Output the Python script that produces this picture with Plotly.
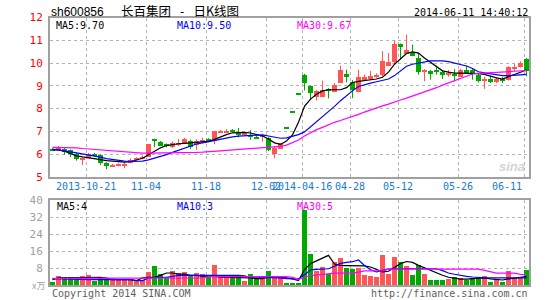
import plotly.graph_objects as go

# ---------------- data ----------------
opens = [6.23, 6.22, 6.27, 6.19, 6.04, 5.80, 5.84, 6.04, 5.97, 5.63,
         5.50, 5.53, 5.54, 5.63, 5.78, 5.82, 5.89, 6.67, 6.55, 6.42,
         6.33, 6.45, 6.48, 6.62, 6.42, 6.57, 6.67, 6.60, 6.96, 6.99,
         7.07, 6.95, 6.86, 6.86, 6.77, 6.82, 6.74, 6.02, 6.27, 7.15,
         7.87, 8.66, 9.49, 9.00, 8.55, 8.54, 8.86, 8.76, 9.15, 9.56,
         9.20, 8.76, 9.30, 9.31, 9.39, 9.49, 9.89, 10.08, 10.84, 10.44,
         10.52, 10.25, 9.64, 9.67, 9.68, 9.64, 9.53, 9.56, 9.42, 9.71,
         9.71, 9.52, 9.27, 9.33, 9.18, 9.34, 9.27, 9.78, 9.83, 10.20]
highs = [6.26, 6.36, 6.29, 6.21, 6.06, 5.85, 6.06, 6.06, 5.99, 5.65,
         5.58, 5.60, 5.62, 5.82, 5.86, 5.94, 6.45, 6.68, 6.58, 6.47,
         6.56, 6.67, 6.72, 6.64, 6.66, 6.72, 6.70, 7.02, 7.06, 7.10,
         7.10, 7.15, 6.97, 7.06, 6.80, 6.90, 6.76, 6.33, 6.50, 7.15,
         7.87, 8.66, 9.53, 9.02, 8.82, 9.23, 8.90, 9.12, 9.89, 9.71,
         9.25, 9.71, 9.50, 9.65, 9.55, 10.52, 10.44, 11.00, 10.86, 11.25,
         10.81, 10.44, 9.73, 9.70, 9.89, 9.70, 9.70, 9.74, 9.75, 9.89,
         9.78, 9.56, 9.39, 9.42, 9.39, 9.39, 9.86, 9.97, 10.08, 10.22]
lows = [6.16, 6.20, 5.98, 5.87, 5.72, 5.53, 5.82, 5.90, 5.53, 5.34,
        5.47, 5.47, 5.38, 5.60, 5.74, 5.78, 5.88, 6.31, 6.36, 6.30,
        6.27, 6.35, 6.45, 6.23, 6.19, 6.50, 6.52, 6.44, 6.94, 6.94,
        6.96, 6.74, 6.83, 6.63, 6.68, 6.55, 6.14, 5.82, 6.24, 7.15,
        7.87, 8.66, 8.80, 8.39, 8.36, 8.51, 8.45, 8.72, 9.12, 9.15,
        8.46, 8.72, 9.27, 9.27, 9.35, 9.42, 9.86, 9.97, 10.15, 10.44,
        10.30, 9.49, 9.20, 9.27, 9.49, 9.30, 9.40, 9.20, 9.40, 9.56,
        9.27, 9.15, 8.87, 9.12, 9.12, 9.12, 9.24, 9.64, 9.80, 9.42]
closes = [6.19, 6.30, 6.12, 6.04, 5.82, 5.82, 6.02, 5.95, 5.63, 5.50,
          5.57, 5.55, 5.56, 5.78, 5.84, 5.90, 6.45, 6.62, 6.38, 6.39,
          6.52, 6.50, 6.67, 6.35, 6.62, 6.66, 6.55, 7.02, 7.03, 7.06,
          7.03, 6.88, 6.95, 6.80, 6.70, 6.88, 6.19, 6.28, 6.50, 7.15,
          7.87, 8.66, 9.15, 8.71, 8.80, 8.83, 8.80, 9.05, 9.71, 9.42,
          8.83, 9.39, 9.39, 9.45, 9.52, 10.12, 10.08, 10.88, 10.77, 10.59,
          10.34, 9.64, 9.71, 9.53, 9.64, 9.49, 9.59, 9.49, 9.71, 9.59,
          9.56, 9.24, 9.33, 9.21, 9.33, 9.23, 9.86, 9.83, 10.03, 9.66]
ma5 = [6.19, 6.19, 6.13, 6.02, 5.93, 5.88, 5.85, 5.80, 5.76, 5.72,
       5.69, 5.67, 5.65, 5.67, 5.74, 5.82, 5.98, 6.12, 6.28, 6.38,
       6.43, 6.46, 6.48, 6.50, 6.52, 6.54, 6.56, 6.65, 6.77, 6.86,
       6.94, 6.96, 6.96, 6.93, 6.86, 6.80, 6.67, 6.50, 6.43, 6.58,
       6.85, 7.40, 8.10, 8.42, 8.63, 8.78, 8.83, 8.83, 8.83, 8.92,
       9.15, 9.20, 9.23, 9.28, 9.30, 9.38, 9.60, 9.95, 10.20, 10.42,
       10.49, 10.44, 10.22, 10.03, 9.82, 9.66, 9.60, 9.56, 9.56, 9.56,
       9.56, 9.54, 9.50, 9.42, 9.35, 9.30, 9.39, 9.50, 9.60, 9.70]
ma10 = [6.22, 6.19, 6.14, 6.10, 6.06, 6.02, 5.98, 5.93, 5.87, 5.81,
        5.77, 5.73, 5.70, 5.69, 5.69, 5.70, 5.75, 5.82, 5.90, 5.98,
        6.08, 6.18, 6.28, 6.37, 6.45, 6.50, 6.55, 6.63, 6.68, 6.72,
        6.76, 6.79, 6.81, 6.82, 6.84, 6.85, 6.80, 6.74, 6.70, 6.72,
        6.80, 6.86, 6.98, 7.20, 7.45, 7.68, 7.90, 8.10, 8.35, 8.58,
        8.78, 8.97, 9.06, 9.12, 9.18, 9.24, 9.30, 9.45, 9.65, 9.86,
        9.95, 10.00, 10.06, 10.10, 10.10, 10.10, 10.06, 10.00, 9.94, 9.87,
        9.76, 9.62, 9.57, 9.53, 9.49, 9.45, 9.45, 9.45, 9.48, 9.50]
ma30 = [6.30, 6.30, 6.30, 6.29, 6.28, 6.25, 6.23, 6.21, 6.19, 6.16,
        6.13, 6.10, 6.08, 6.06, 6.05, 6.05, 6.05, 6.05, 6.05, 6.05,
        6.05, 6.05, 6.05, 6.06, 6.08, 6.09, 6.10, 6.13, 6.15, 6.17,
        6.19, 6.21, 6.23, 6.24, 6.26, 6.28, 6.30, 6.31, 6.34, 6.40,
        6.50, 6.62, 6.80, 6.95, 7.08, 7.18, 7.30, 7.40, 7.48, 7.56,
        7.65, 7.75, 7.85, 7.95, 8.05, 8.12, 8.20, 8.30, 8.38, 8.46,
        8.55, 8.63, 8.72, 8.82, 8.92, 9.03, 9.13, 9.25, 9.35, 9.45,
        9.52, 9.55, 9.56, 9.57, 9.58, 9.60, 9.62, 9.64, 9.66, 9.67]
volumes = [1.6, 4.4, 3.8, 3.8, 2.7, 4.4, 4.9, 2.0, 3.9, 2.7,
           3.5, 2.5, 2.5, 2.5, 2.2, 2.5, 6.3, 9.1, 5.3, 3.9,
           6.7, 5.6, 6.3, 4.1, 5.6, 5.0, 3.8, 9.6, 4.4, 4.4,
           3.5, 4.1, 1.9, 5.3, 3.1, 2.7, 6.7, 3.8, 3.8, 0.6,
           0.6, 1.1, 35.1, 14.7, 6.6, 8.6, 5.3, 11.0, 12.9, 8.2,
           7.4, 8.2, 4.7, 4.4, 3.9, 14.3, 5.3, 13.3, 11.0, 8.9,
           4.9, 9.3, 5.3, 2.5, 2.5, 2.5, 2.8, 3.9, 3.5, 2.5,
           3.5, 3.5, 4.2, 1.6, 2.8, 1.6, 6.6, 3.5, 3.5, 7.2]
vma5 = [2.7, 3.5, 3.5, 3.5, 3.5, 3.8, 3.8, 3.8, 3.8, 3.4,
        2.7, 2.7, 2.7, 2.7, 2.2, 3.5, 3.8, 3.8, 4.7, 5.8,
        5.8, 5.3, 5.3, 4.7, 4.7, 4.2, 4.2, 4.2, 3.8, 3.8,
        3.8, 3.5, 3.5, 3.5, 3.1, 3.1, 3.8, 3.8, 3.5, 3.5,
        3.0, 2.2, 7.4, 10.2, 11.5, 13.0, 14.1, 10.0, 9.4, 9.3,
        9.3, 9.2, 9.1, 8.6, 7.3, 6.3, 6.6, 8.5, 10.2, 11.2,
        10.8, 9.4, 8.2, 7.2, 5.8, 4.7, 3.8, 3.2, 2.9, 2.9,
        3.2, 3.4, 3.5, 3.0, 2.6, 2.5, 3.0, 3.4, 3.6, 4.1]
vma10 = [3.1, 3.1, 3.0, 3.0, 2.9, 2.8, 2.7, 2.7, 2.7, 2.7,
         2.7, 2.7, 2.7, 2.7, 2.2, 2.2, 3.5, 3.8, 3.8, 3.8,
         4.3, 4.7, 4.7, 4.7, 4.7, 4.7, 5.0, 5.0, 5.0, 4.7,
         4.7, 4.7, 4.5, 3.8, 3.8, 3.8, 3.5, 3.5, 3.5, 3.1,
         3.1, 3.0, 5.0, 7.2, 7.5, 7.7, 7.8, 9.0, 10.3, 10.8,
         11.1, 11.9, 9.3, 7.3, 6.3, 7.0, 7.6, 7.8, 7.8, 7.8,
         7.8, 7.8, 7.8, 7.8, 7.8, 6.9, 5.8, 5.2, 4.6, 4.2,
         3.9, 3.6, 3.5, 3.5, 3.5, 3.5, 3.5, 3.5, 3.5, 3.5]
vma30 = [3.3, 3.3, 3.3, 3.3, 3.3, 3.3, 3.3, 3.3, 3.3, 3.3,
         3.3, 3.3, 3.3, 3.3, 3.3, 3.5, 3.5, 3.5, 3.5, 3.5,
         3.5, 3.5, 3.5, 3.5, 3.5, 3.5, 4.1, 4.1, 4.1, 4.1,
         4.1, 4.1, 4.1, 4.1, 4.1, 4.1, 4.1, 4.1, 4.1, 4.1,
         3.7, 2.8, 3.8, 4.6, 4.8, 5.2, 5.6, 5.7, 5.7, 5.7,
         5.7, 6.2, 6.8, 6.8, 6.8, 6.8, 7.6, 7.6, 7.6, 7.6,
         7.6, 7.6, 7.6, 7.6, 7.6, 7.6, 7.6, 7.6, 7.6, 7.6,
         7.6, 7.6, 7.0, 6.3, 5.7, 5.7, 5.7, 5.7, 5.1, 5.0]

tick_index = [6, 16, 26, 36, 42, 50, 58, 68, 79]
tick_labels = ["2013-10-21", "11-04", "11-18", "12-02", "2014-04-16",
               "04-28", "05-12", "05-26", "06-11"]
price_ticks = [5, 6, 7, 8, 9, 10, 11, 12]
volume_ticks = [8, 16, 24, 32, 40]

stock_code = "sh600856"
title_text = "长百集团\u2002 -\u2002 日K线图"
timestamp = "2014-06-11 14:40:12"
ma_price_labels = ["MA5:9.70", "MA10:9.50", "MA30:9.67"]
ma_volume_labels = ["MA5:4", "MA10:3", "MA30:5"]

# ---------------- styling ----------------
W, H = 545, 300
RED = "#ff5555"
GREEN = "#00a800"
MA_COLORS = ["#000000", "#0000ff", "#ff00ff"]
GRID = "#b4b4b4"
BORDER = "#a0a0a0"
MONO = "DejaVu Sans Mono"

def fx(px):
    return px / W

def fy(py):
    return 1 - py / H

n = len(closes)
xs = list(range(n))
up = [c > o for o, c in zip(opens, closes)]
colors = [RED if u else GREEN for u in up]
body_base = [min(o, c) for o, c in zip(opens, closes)]
body_h = [max(abs(c - o), 0.045) for o, c in zip(opens, closes)]

fig = go.Figure()

# wicks
for col, flag in ((RED, True), (GREEN, False)):
    wx, wy = [], []
    for i in range(n):
        if up[i] == flag:
            wx += [i, i, None]
            wy += [lows[i], highs[i], None]
    fig.add_trace(go.Scatter(x=wx, y=wy, mode="lines", line=dict(color=col, width=1),
                             xaxis="x", yaxis="y", hoverinfo="skip"))

# candle bodies
fig.add_trace(go.Bar(x=xs, y=body_h, base=body_base, width=0.8,
                     marker=dict(color=colors, line=dict(width=0)),
                     xaxis="x", yaxis="y"))

# price moving averages
for series, col in zip((ma5, ma10, ma30), MA_COLORS):
    fig.add_trace(go.Scatter(x=xs, y=series, mode="lines", line=dict(color=col, width=1.2),
                             xaxis="x", yaxis="y"))

# volume bars
fig.add_trace(go.Bar(x=xs, y=volumes, width=0.82,
                     marker=dict(color=colors, line=dict(width=0)),
                     xaxis="x2", yaxis="y2"))
for series, col in zip((vma5, vma10, vma30), MA_COLORS):
    fig.add_trace(go.Scatter(x=xs, y=series, mode="lines", line=dict(color=col, width=1.2),
                             xaxis="x2", yaxis="y2"))

xdom = [fx(50), fx(529)]
xrange_ = [-0.417, 79.417]
grid_x = [t - 0.417 for t in tick_index]

common_x = dict(domain=xdom, range=xrange_, tickmode="array", tickvals=grid_x,
                showticklabels=False, ticks="", showgrid=True, gridcolor=GRID,
                griddash="dot", gridwidth=1, zeroline=False, showline=True,
                mirror=True, linecolor=BORDER, linewidth=2, automargin=False,
                fixedrange=True)

fig.update_layout(
    width=W, height=H, template="none",
    margin=dict(l=0, r=0, t=0, b=0),
    paper_bgcolor="white", plot_bgcolor="white",
    showlegend=False, barmode="overlay", bargap=0,
    xaxis=dict(anchor="y", **common_x),
    xaxis2=dict(anchor="y2", **common_x),
    yaxis=dict(domain=[fy(177), fy(17.5)], range=[5, 12], tickmode="array",
               tickvals=price_ticks, ticktext=[str(v) for v in price_ticks],
               tickfont=dict(family=MONO, size=11, color="#ff0000"),
               ticks="", ticklabelstandoff=3,
               showgrid=True, gridcolor=GRID, griddash="dot", gridwidth=1,
               zeroline=False, showline=True, mirror=True, linecolor=BORDER,
               linewidth=2, anchor="x", automargin=False, fixedrange=True),
    yaxis2=dict(domain=[fy(285.3), fy(200.3)], range=[0, 40], tickmode="array",
                tickvals=volume_ticks, ticktext=[str(v) for v in volume_ticks],
                tickfont=dict(family=MONO, size=11, color="#a0a0a0"),
                ticks="", ticklabelstandoff=3,
                showgrid=True, gridcolor=GRID, griddash="dot", gridwidth=1,
                zeroline=False, showline=True, mirror=True, linecolor=BORDER,
                linewidth=2, anchor="x2", automargin=False, fixedrange=True),
)

ann = []
def text(x, y, s, color="#000", size=10, family=MONO, xanchor="left", **kw):
    ann.append(dict(x=fx(x), y=fy(y), xref="paper", yref="paper", text=s,
                    showarrow=False, xanchor=xanchor, yanchor="middle",
                    font=dict(family=family, size=size, color=color), **kw))

text(49, 11.5, stock_code, size=12, family="Liberation Sans")
text(119, 10.5, title_text, size=12.5, family="Noto Sans CJK SC")
text(529.5, 12, timestamp, size=10, xanchor="right")

for lbl, col, x0 in zip(ma_price_labels, MA_COLORS, (54, 175, 295.5)):
    text(x0, 25, lbl, color=col)
for lbl, col, x0 in zip(ma_volume_labels, MA_COLORS, (54.5, 175, 295)):
    text(x0, 206, lbl, color=col)

# x tick labels under the price panel
for k, (t, lbl) in enumerate(zip(tick_index, tick_labels)):
    last = k == len(tick_index) - 1
    ann.append(dict(x=t - 0.417, y=fy(186.5), xref="x", yref="paper", text=lbl,
                    showarrow=False, xanchor="right" if last else "center",
                    yanchor="middle",
                    font=dict(family=MONO, size=10, color="#1a7ad4")))

text(50, 293, "Copyright 2014 SINA.COM", color="#606060")
text(529.5, 293, "http://finance.sina.com.cn", color="#606060", xanchor="right")
text(47, 285.5, "x万", color="#a0a0a0", size=9, family="Noto Sans CJK SC", xanchor="right")
text(512, 166, "<b><i>sina</i></b>", color="#d4d4d4", size=13,
     family="Liberation Sans", xanchor="center")

fig.update_layout(annotations=ann)
fig.write_html("out.html")
